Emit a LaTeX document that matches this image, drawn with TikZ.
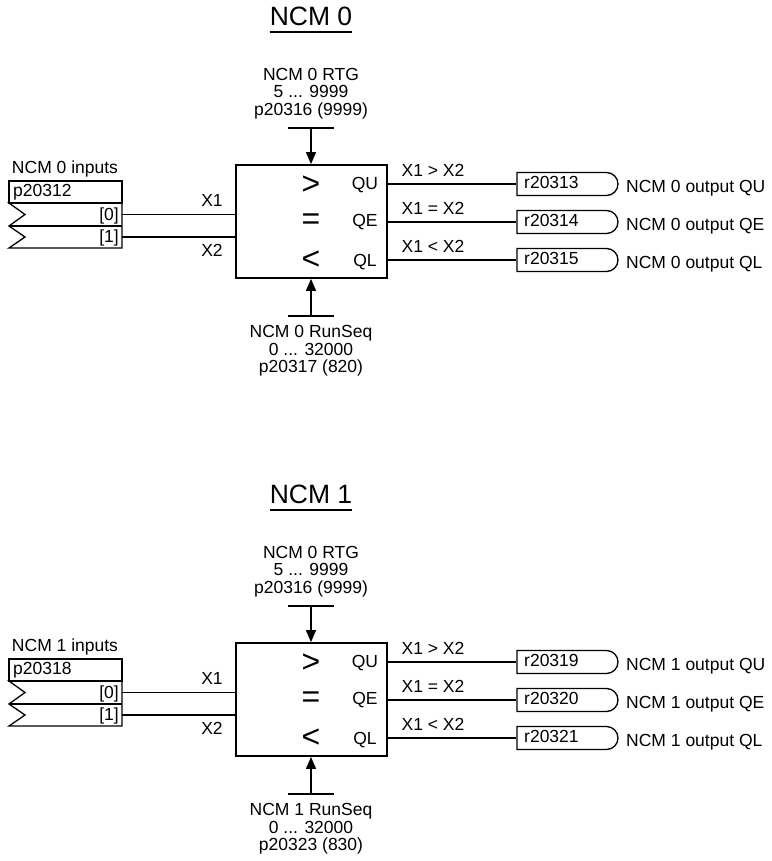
\documentclass[tikz,border=0pt]{standalone}
\usepackage{fontspec}
\setmainfont{Liberation Sans}
\usetikzlibrary{arrows.meta,shapes.misc}
\lineskiplimit=-20pt
\tikzset{
  txt/.style={inner sep=0pt, font=\fontsize{17.5}{18.5}\selectfont},
  ptxt/.style={inner sep=0pt, font=\fontsize{17.5}{17.5}\selectfont},
  ttl/.style={inner sep=0pt, font=\fontsize{26.5}{28}\selectfont},
  sym/.style={inner sep=0pt, font=\fontsize{32}{32}\selectfont},
  wire/.style={line width=1.4pt},
  cmpbox/.style={draw, line width=1.8pt, minimum width=151pt, minimum height=113pt, inner sep=0pt},
  outbox/.style={draw, line width=1.3pt, rounded rectangle, rounded rectangle west arc=none,
                 minimum width=101pt, minimum height=23pt, inner sep=0pt},
  pbox/.style={draw, line width=1.3pt, minimum width=113pt, minimum height=22pt, inner sep=0pt},
  arr/.style={wire, -{Triangle[length=12pt,width=10pt]}}
}
\newcommand\NCMblock[9]{%
\begin{scope}[yshift=-#1pt]
  % title
  \node[ttl, anchor=base] (title#2) at (311,25.5) {NCM #3};
  \draw[line width=1.6pt] ([yshift=-6.5pt]title#2.base west) -- ([yshift=-6.5pt]title#2.base east);
  % RTG parameter
  \node[ptxt, align=center] (rtg#2) at (311,93.5) {NCM #9 RTG\\5 ... 9999\\p20316 (9999)};
  \coordinate (rtgL#2) at (288,128);
  \coordinate (rtgR#2) at (334,128);
  \coordinate (rtgM#2) at (311,128);
  \draw[wire] (rtgL#2) -- (rtgR#2);
  % comparator box
  \node[cmpbox] (box#2) at (311.5,221.5) {};
  \draw[arr] (rtgM#2) -- (rtgM#2 |- box#2.north);
  \node[sym] (gt#2) at (311,185) {>};
  \node[sym] (eq#2) at (311,222) {=};
  \node[sym] (lt#2) at (311,260) {<};
  \node[txt] (qu#2) at (365,185) {QU};
  \node[txt] (qe#2) at (365,222) {QE};
  \node[txt] (ql#2) at (365,262) {QL};
  % RunSeq parameter
  \coordinate (rsL#2) at (288,316);
  \coordinate (rsR#2) at (334,316);
  \coordinate (rsM#2) at (311,316);
  \draw[wire] (rsL#2) -- (rsR#2);
  \draw[arr] (rsM#2) -- (rsM#2 |- box#2.south);
  \node[ptxt, align=center] (rs#2) at (311,351) {NCM #3 RunSeq\\0 ... 32000\\#8};
  % inputs
  \node[txt] (inlbl#2) at (65,169) {NCM #3 inputs};
  \node[pbox] (pin#2) at (65.5,192) {};
  \node[txt, anchor=west] (pint#2) at (13,192) {#4};
  \draw[wire, line width=1.3pt, line join=miter] (9,203) -- (122,203) -- (122,248) -- (9,248) -- (25,237) -- (9,226) -- (25,214.5) -- cycle;
  \draw[wire, line width=1.3pt] (9,226) -- (122,226);
  \node[txt, anchor=east] (i0#2) at (119,216) {[0]};
  \node[txt, anchor=east] (i1#2) at (119,238) {[1]};
  \coordinate (x1#2) at (122,214.5);
  \coordinate (x2#2) at (122,237);
  \draw[wire] (x1#2) -- (x1#2 -| box#2.west);
  \draw[wire] (x2#2) -- (x2#2 -| box#2.west);
  \node[txt] (x1l#2) at (212,200) {X1};
  \node[txt] (x2l#2) at (212,250) {X2};
  % outputs
  \node[outbox] (oA#2) at (567.5,184) {};
  \node[outbox] (oB#2) at (567.5,222) {};
  \node[outbox] (oC#2) at (567.5,260) {};
  \draw[wire] (oA#2.west -| box#2.east) -- (oA#2.west);
  \draw[wire] (oB#2.west -| box#2.east) -- (oB#2.west);
  \draw[wire] (oC#2.west -| box#2.east) -- (oC#2.west);
  \node[txt, anchor=west] (oAt#2) at (524,182.5) {#5};
  \node[txt, anchor=west] (oBt#2) at (524,220.5) {#6};
  \node[txt, anchor=west] (oCt#2) at (524,258.5) {#7};
  \node[txt] (cA#2) at (433,170) {X1 > X2};
  \node[txt] (cB#2) at (433,208) {X1 = X2};
  \node[txt] (cC#2) at (433,246) {X1 < X2};
  \node[txt, anchor=west] (lA#2) at (626,188) {NCM #3 output QU};
  \node[txt, anchor=west] (lB#2) at (626,226) {NCM #3 output QE};
  \node[txt, anchor=west] (lC#2) at (626,264) {NCM #3 output QL};
\end{scope}}
\begin{document}
\begin{tikzpicture}[x=1pt,y=-1pt]
  \path[use as bounding box, fill=white] (0,0) rectangle (771,861);
  \NCMblock{0}{a}{0}{p20312}{r20313}{r20314}{r20315}{p20317 (820)}{0}
  \NCMblock{478}{b}{1}{p20318}{r20319}{r20320}{r20321}{p20323 (830)}{0}
\end{tikzpicture}
\end{document}
